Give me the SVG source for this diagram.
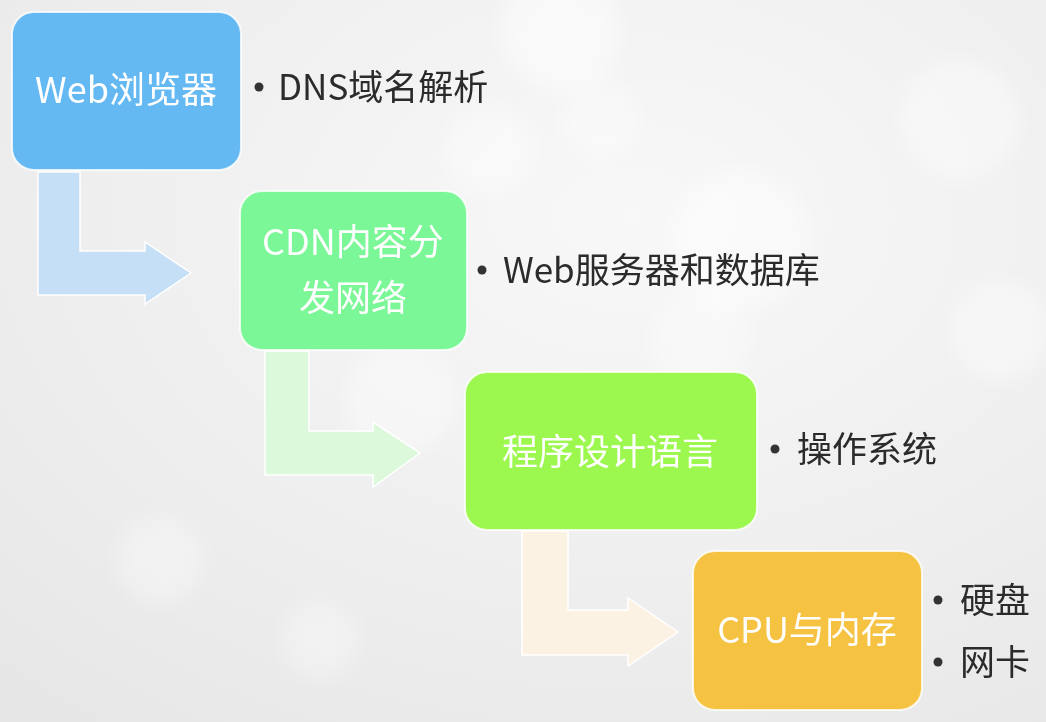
<svg xmlns="http://www.w3.org/2000/svg" width="1046" height="722" viewBox="0 0 1046 722">
<defs>
<radialGradient id="bg" cx="0.6" cy="0.3" r="0.9">
<stop offset="0" stop-color="#f8f8f8"/>
<stop offset="0.6" stop-color="#eeeeee"/>
<stop offset="1" stop-color="#e6e6e6"/>
</radialGradient>
<filter id="blur" x="-50%" y="-50%" width="200%" height="200%"><feGaussianBlur stdDeviation="10"/></filter>
</defs>
<style>
.box{stroke:#ffffff;stroke-width:2;stroke-opacity:0.8}
.arr{stroke:#ffffff;stroke-width:1.5}
.lbl{font-family:"Noto Sans CJK SC","Noto Sans",sans-serif;font-size:36px;fill:#ffffff;text-anchor:middle}
.bt{font-family:"Noto Sans CJK SC","Noto Sans",sans-serif;font-size:35px;fill:#2b2b2b}
.dot{fill:#333333}
</style>
<rect width="1046" height="722" fill="url(#bg)"/>
<g filter="url(#blur)" fill="#ffffff">
<circle cx="560" cy="30" r="60" opacity="0.5"/>
<circle cx="490" cy="150" r="45" opacity="0.4"/>
<circle cx="740" cy="240" r="70" opacity="0.45"/>
<circle cx="960" cy="120" r="60" opacity="0.4"/>
<circle cx="400" cy="400" r="55" opacity="0.4"/>
<circle cx="700" cy="340" r="50" opacity="0.35"/>
<circle cx="1000" cy="330" r="50" opacity="0.4"/>
<circle cx="160" cy="560" r="45" opacity="0.3"/>
<circle cx="320" cy="640" r="40" opacity="0.3"/>
<circle cx="600" cy="120" r="40" opacity="0.35"/>
</g>
<g id="connectors">
<path class="arr" fill="#c5dff7" d="M38,172 L80,172 L80,251 L145,251 L145,242 L191,273 L145,304 L145,295 L38,295 Z"/>
<path class="arr" fill="#dcfadb" d="M265,351 L309,351 L309,431 L373,431 L373,422 L420,453 L373,487 L373,475 L265,475 Z"/>
<path class="arr" fill="#fcf2e4" d="M522,531 L568,531 L568,610 L628,610 L628,598 L678,632 L628,666 L628,655 L522,655 Z"/>
</g>
<g id="node1">
<rect class="box" x="12" y="12" width="229" height="158" rx="22" fill="#65b9f2"/>
<text class="lbl" x="126" y="103">Web浏览器</text>
</g>
<g id="node2">
<rect class="box" x="240" y="191" width="227" height="159" rx="22" fill="#7bf797"/>
<text class="lbl" x="353" y="255">CDN内容分</text>
<text class="lbl" x="353" y="311">发网络</text>
</g>
<g id="node3">
<rect class="box" x="465" y="372" width="292" height="158" rx="22" fill="#9cf84e"/>
<text class="lbl" x="610" y="465">程序设计语言</text>
</g>
<g id="node4">
<rect class="box" x="693" y="551" width="229" height="159" rx="22" fill="#f5c242"/>
<text class="lbl" x="807" y="643">CPU与内存</text>
</g>
<g id="bullets">
<circle class="dot" cx="259" cy="87" r="4.5"/>
<text class="bt" x="278" y="100">DNS域名解析</text>
<circle class="dot" cx="482" cy="270" r="4.5"/>
<text class="bt" x="503" y="283">Web服务器和数据库</text>
<circle class="dot" cx="775" cy="449" r="4.5"/>
<text class="bt" x="797" y="462">操作系统</text>
<circle class="dot" cx="938" cy="600" r="4.5"/>
<text class="bt" x="960" y="613">硬盘</text>
<circle class="dot" cx="938" cy="662" r="4.5"/>
<text class="bt" x="960" y="675">网卡</text>
</g>
</svg>
